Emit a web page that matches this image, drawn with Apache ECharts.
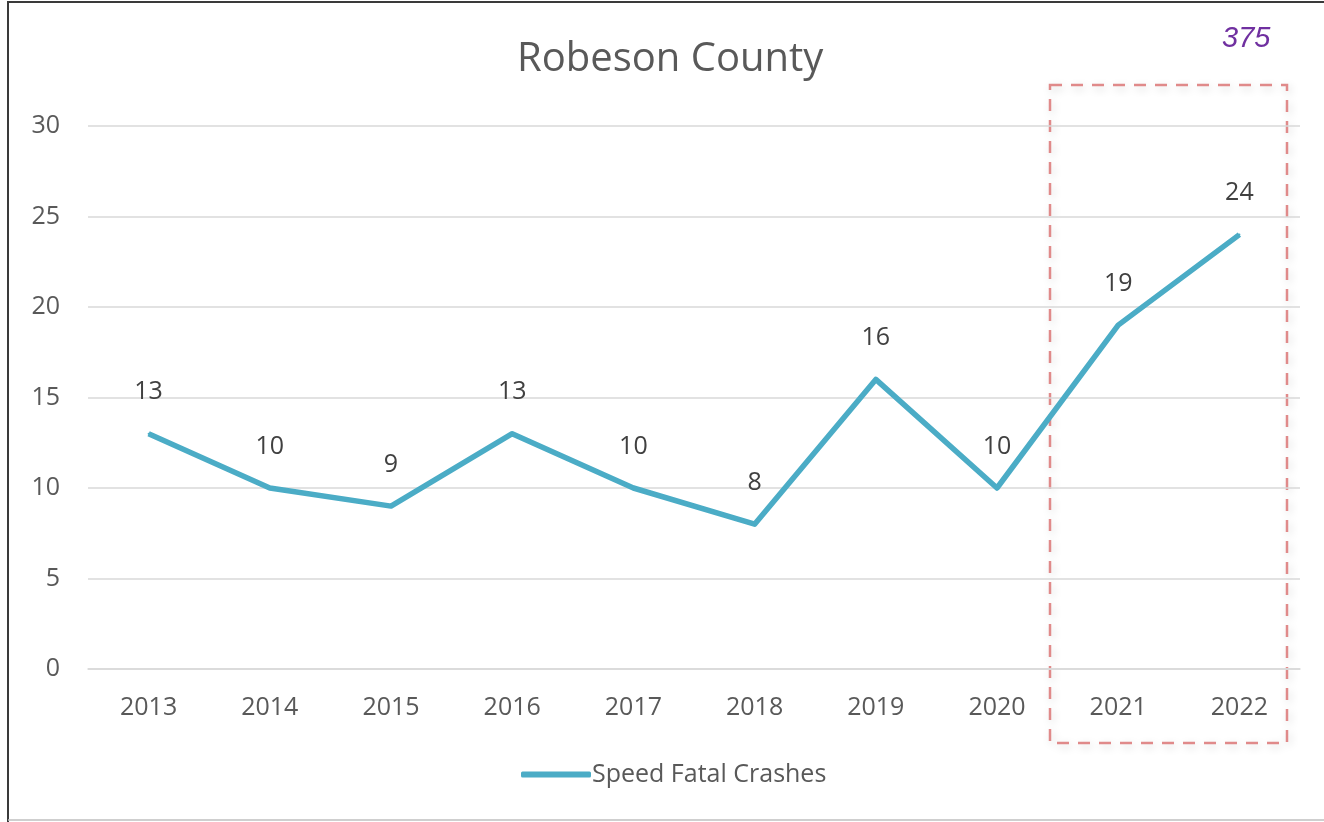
<!DOCTYPE html>
<html>
<head>
<meta charset="utf-8">
<title>Robeson County</title>
<script src="https://cdn.jsdelivr.net/npm/echarts@6/dist/echarts.min.js"></script>
<style>
    html, body { margin: 0; padding: 0; background: #fff; }
    #chart { width: 1324px; height: 822px; }
</style>
</head>
<body>
<div id="chart"></div>
<script>
    // data
    var years = ['2013', '2014', '2015', '2016', '2017', '2018', '2019', '2020', '2021', '2022'];
    var speedFatal = [13, 10, 9, 13, 10, 8, 16, 10, 19, 24];
    var yTicks = { min: 0, max: 30, interval: 5 };
    var seriesName = 'Speed Fatal Crashes';
    var totalNote = '375';

    var font = '"Open Sans", "Noto Sans", sans-serif';
    var lineColor = '#4bacc6';
    var chart = echarts.init(document.getElementById('chart'));

    chart.setOption({
        backgroundColor: '#fff',
        animation: false,
        title: {
            text: 'Robeson County',
            left: 512,
            top: 35,
            textStyle: { fontFamily: font, fontSize: 40, fontWeight: 'normal', color: '#595959' }
        },
        legend: {
            data: [seriesName],
            bottom: 30,
            left: 516,
            itemWidth: 70,
            itemHeight: 6,
            itemGap: 4,
            icon: 'roundRect',
            itemStyle: { color: lineColor },
            textStyle: { fontFamily: font, fontSize: 25, color: '#595959', padding: [0, 0, 0, -4] }
        },
        grid: { left: 88, right: 24, top: 126, bottom: 153, containLabel: false },
        xAxis: {
            type: 'category',
            data: years,
            boundaryGap: true,
            axisLine: { show: true, lineStyle: { color: '#d9d9d9', width: 1.5 } },
            axisTick: { show: false },
            axisLabel: { fontFamily: font, fontSize: 25, color: '#595959', margin: 26 }
        },
        yAxis: {
            type: 'value',
            min: yTicks.min,
            max: yTicks.max,
            interval: yTicks.interval,
            axisLine: { show: false },
            axisTick: { show: false },
            axisLabel: { fontFamily: font, fontSize: 25, color: '#595959', margin: 28 },
            splitLine: { lineStyle: { color: '#d9d9d9', width: 1.5 } }
        },
        series: [{
            name: seriesName,
            type: 'line',
            data: speedFatal,
            symbol: 'circle',
            symbolSize: 2,
            showSymbol: true,
            lineStyle: { color: lineColor, width: 5.5, join: 'round' },
            itemStyle: { color: lineColor },
            label: {
                show: true,
                position: 'top',
                distance: 28,
                fontFamily: font,
                fontSize: 25,
                color: '#404040'
            }
        }],
        graphic: [
            {
                type: 'polyline',
                shape: { points: [[8, 822], [8, 2], [1324, 2]] },
                style: { fill: 'none', stroke: '#3a3a3a', lineWidth: 2 },
                silent: true
            },
            {
                type: 'line',
                shape: { x1: 8, y1: 820, x2: 1324, y2: 820 },
                style: { stroke: '#bfbfbf', lineWidth: 1.5 },
                silent: true
            },
            {
                type: 'rect',
                shape: { x: 1050, y: 85, width: 237, height: 658 },
                style: {
                    fill: 'none',
                    stroke: '#e08a8a',
                    lineWidth: 2.5,
                    lineDash: [12, 9],
                    shadowBlur: 8,
                    shadowColor: 'rgba(0,0,0,0.18)',
                    shadowOffsetX: 2,
                    shadowOffsetY: 3
                },
                silent: true
            },
            {
                type: 'text',
                left: 1222,
                top: 24,
                style: {
                    text: totalNote,
                    font: 'italic 29px "Liberation Sans", Arial, sans-serif',
                    fill: '#7030a0'
                },
                silent: true
            }
        ]
    });
</script>
</body>
</html>
